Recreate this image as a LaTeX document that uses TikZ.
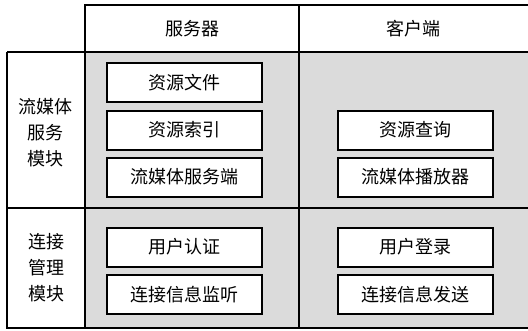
\documentclass[tikz,border=0pt]{standalone}
\usepackage{fontspec}
\newfontfamily\cjk{Noto Sans CJK SC}
\begin{document}
\begin{tikzpicture}[x=1pt,y=-1pt,
  frame/.style={line width=2pt},
  cell/.style={draw,line width=2pt,fill=white,minimum width=155pt,minimum height=39pt,inner sep=0pt,font=\cjk\fontsize{18}{20}\selectfont},
  head/.style={font=\cjk\fontsize{18}{20}\selectfont},
  side/.style={font=\cjk\fontsize{18}{26}\selectfont,align=center}]
\useasboundingbox (0,0) rectangle (528,330);
% gray content area
\fill[black!14] (85,52) rectangle (528,328);
% frame lines
\draw[frame] (85,328) -- (85,5) -- (528,5);
\draw[frame] (7,52) -- (528,52);
\draw[frame] (7,52) -- (7,328) -- (528,328);
\draw[frame] (299,5) -- (299,328);
\draw[frame] (7,208) -- (528,208);
% headers
\node[head] (hs) at (192,29) {服务器};
\node[head] (hc) at (413,29) {客户端};
% side labels
\node[side] (m1) at (46,133) {流媒体\\服务\\模块};
\node[side] (m2) at (46,268) {连接\\管理\\模块};
% server boxes
\node[cell] (s1) at (184.5,82.5) {资源文件};
\node[cell] (s2) at (184.5,130) {资源索引};
\node[cell] (s3) at (184.5,177) {流媒体服务端};
\node[cell] (s4) at (184.5,247) {用户认证};
\node[cell] (s5) at (184.5,294.5) {连接信息监听};
% client boxes
\node[cell] (c1) at (415.5,130) {资源查询};
\node[cell] (c2) at (415.5,177) {流媒体播放器};
\node[cell] (c3) at (415.5,247) {用户登录};
\node[cell] (c4) at (415.5,294.5) {连接信息发送};
\end{tikzpicture}
\end{document}
